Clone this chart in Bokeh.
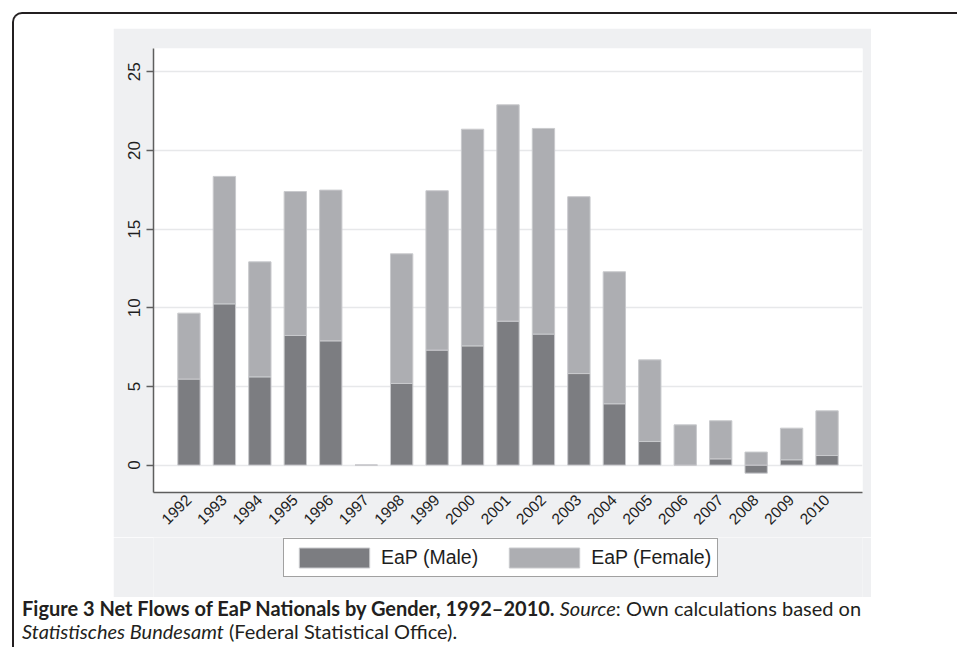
from math import pi
from bokeh.plotting import figure
from bokeh.models import (Range1d, FixedTicker, Legend, LegendItem, Div, ColumnDataSource)
from bokeh.layouts import column
from bokeh.embed import file_html
from bokeh.resources import INLINE

# ---- data (thousands) ----
years = [1992, 1993, 1994, 1995, 1996, 1997, 1998, 1999, 2000, 2001,
         2002, 2003, 2004, 2005, 2006, 2007, 2008, 2009, 2010]
male = [5.47, 10.25, 5.61, 8.24, 7.90, 0.0, 5.19, 7.31, 7.58, 9.15,
        8.33, 5.82, 3.90, 1.50, 0.0, 0.40, -0.51, 0.34, 0.61]
female = [4.19, 8.10, 7.31, 9.15, 9.58, 0.0, 8.24, 10.13, 13.77, 13.75,
          13.07, 11.24, 8.39, 5.19, 2.56, 2.42, 0.83, 2.01, 2.84]
y_ticks = [0, 5, 10, 15, 20, 25]
series_labels = ["EaP (Male)", "EaP (Female)"]

MALE_C = "#7c7d81"
FEMALE_C = "#adaeb2"
BG = "#eff0f2"
AXIS_C = "#5e5e5e"
EDGE_C = "#c9cacd"

xs = list(range(len(years)))
f_bottom = [max(m, 0.0) for m in male]
f_top = [b + f for b, f in zip(f_bottom, female)]
src = ColumnDataSource(dict(x=xs, male=male, fb=f_bottom, ft=f_top))

# ---- main chart ----
p = figure(width=758, height=509, output_backend="svg", toolbar_location=None,
           x_range=Range1d(-1, 19), y_range=Range1d(-1.74, 26.48),
           min_border_left=40, min_border_right=9, min_border_top=20,
           min_border_bottom=45, margin=(14, 0, 0, 99))
p.border_fill_color = BG
p.background_fill_color = "white"
p.outline_line_color = None

p.vbar(x="x", bottom=0, top="male", width=0.63, source=src,
       fill_color=MALE_C, line_color=EDGE_C, line_width=1)
p.vbar(x="x", bottom="fb", top="ft", width=0.63, source=src,
       fill_color=FEMALE_C, line_color=EDGE_C, line_width=1)

p.xgrid.grid_line_color = None
p.ygrid.grid_line_color = "#e7e8ea"
p.ygrid.grid_line_width = 1.5
p.yaxis.ticker = FixedTicker(ticks=y_ticks)
p.xaxis.ticker = FixedTicker(ticks=xs)
p.xaxis.major_label_overrides = {i: str(y) for i, y in zip(xs, years)}

for ax in (p.xaxis[0], p.yaxis[0]):
    ax.axis_line_color = AXIS_C
    ax.axis_line_width = 1.5
    ax.minor_tick_line_color = None
    ax.major_label_text_font = "Liberation Sans"
    ax.major_label_text_color = "#1e1e1e"

p.yaxis.major_tick_line_color = AXIS_C
p.yaxis.major_tick_line_width = 1.5
p.yaxis.major_tick_out = 7
p.yaxis.major_tick_in = 0
p.yaxis.major_label_orientation = "vertical"
p.yaxis.major_label_text_font_size = "17px"
p.yaxis.major_label_standoff = 6

p.xaxis.major_tick_line_color = None
p.xaxis.major_tick_out = 0
p.xaxis.major_tick_in = 0
p.xaxis.major_label_orientation = pi / 4
p.xaxis.major_label_text_font_size = "15.5px"
p.xaxis.major_label_standoff = 5

# ---- legend strip (grey panel below the axis labels) ----
# same series drawn again, but the strip's y range lies far above them,
# so only their legend swatches are visible
lf = figure(width=758, height=60, output_backend="svg", toolbar_location=None,
            x_range=Range1d(-1, 19), y_range=Range1d(1000, 1001),
            x_axis_location=None, y_axis_location=None,
            min_border_left=40, min_border_right=9, min_border_top=0,
            min_border_bottom=0, margin=(0, 0, 0, 99))
lf.grid.visible = False
lf.outline_line_color = None
lf.border_fill_color = BG
lf.background_fill_color = BG
lm = lf.vbar(x="x", bottom=0, top="male", width=0.63, source=src,
             fill_color=MALE_C, line_color=EDGE_C, line_width=1)
lfe = lf.vbar(x="x", bottom="fb", top="ft", width=0.63, source=src,
              fill_color=FEMALE_C, line_color=EDGE_C, line_width=1)

legend = Legend(items=[LegendItem(label=series_labels[0], renderers=[lm]),
                       LegendItem(label=series_labels[1], renderers=[lfe])],
                orientation="horizontal", location=(130, 20),
                border_line_color="#444444", border_line_width=1,
                background_fill_color="white", background_fill_alpha=1,
                label_text_font="Liberation Sans", label_text_font_size="19.5px",
                label_text_color="#1e1e1e",
                glyph_width=88, glyph_height=25, padding=6, spacing=22,
                label_standoff=3, margin=0)
lf.add_layout(legend, "center")

# ---- caption ----
caption_html = ("<b>Figure 3 Net Flows of EaP Nationals by Gender, 1992\u20132010.</b> "
                "<i>Source</i>: Own calculations based on<br>"
                "<i>Statistisches Bundesamt</i> (Federal Statistical Office).")
cap = Div(text=caption_html, width=935, height=50, margin=(0, 0, 0, 8),
          styles={"font-family": "Lato", "font-size": "20px",
                  "line-height": "23px", "color": "#231f20",
                  "white-space": "nowrap"})

page = column(p, lf, cap, margin=(12, 0, 0, 12),
              styles={"border-left": "2px solid #231f20",
                      "border-top": "2px solid #231f20",
                      "border-top-left-radius": "10px"})

open("out.html", "w").write(file_html(page, INLINE))
